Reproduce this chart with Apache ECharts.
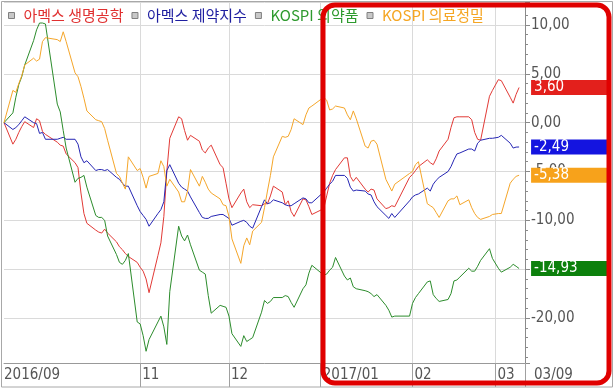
<!DOCTYPE html>
<html><head><meta charset="utf-8">
<script src="https://cdn.jsdelivr.net/npm/echarts@6/dist/echarts.min.js"></script>
<style>html,body{margin:0;padding:0;background:#fff}#c{width:615px;height:391px}</style>
</head><body><div id="c"></div>
<script>
// ---- data ----
const seriesNames = ['아멕스 생명공학', '아멕스 제약지수', 'KOSPI 의약품', 'KOSPI 의료정밀'];
const lineColors = ['#e23a36', '#2626b4', '#2c8c2c', '#f5a62a'];
const tagColors = ['#e3201c', '#1414e0', '#0c800c', '#f7a21b'];
const legendTextColors = ['#e03030', '#1e1ea0', '#2e9a2e', '#f5a623'];

const tradeDays = {
  '2016-09': [16,19,20,21,22,23,26,27,28,29,30],
  '2016-10': [4,5,6,7,10,11,12,13,14,17,18,19,20,21,24,25,26,27,28,31],
  '2016-11': [1,2,3,4,7,8,9,10,11,14,15,16,17,18,21,22,23,24,25,28,29,30],
  '2016-12': [1,2,5,6,7,8,9,12,13,14,15,16,19,20,21,22,23,26,27,28,29],
  '2017-01': [2,3,4,5,6,9,10,11,12,13,16,17,18,19,20,23,24,25,26,31],
  '2017-02': [1,2,3,6,7,8,9,10,13,14,15,16,17,20,21,22,23,24,27,28],
  '2017-03': [2,3,6,7,8,9]
};

const redValues = [
  0,-2.2,-1.7,-1.0,-0.4,0.1,-0.5,0.4,0.2,-0.9,-1.2,
  -2.0,-2.3,-2.4,-3.2,-4.1,-4.6,-7.2,-9.3,-10.3,-11.0,-11.2,-11.3,-10.9,-11.3,-12.2,-12.7,-13.0,-13.4,-13.7,-14.3,
  -14.8,-15.2,-16.0,-17.4,-13.6,-12.3,-9.6,-5.0,-1.6,0.6,0.4,-0.8,-1.8,-1.3,-1.9,-2.8,-3.1,-2.6,-2.3,-4.3,-4.6,-6.2,
  -7.8,-8.7,-7.2,-6.8,-8.1,-8.7,-8.4,-8.5,-8.3,-8.3,-7.5,-6.5,-7.1,-8.4,-8.0,-9.1,-9.6,-7.8,-7.9,-8.6,-9.4,
  -8.8,-7.5,-6.2,-5.4,-4.8,-3.6,-3.6,-5.5,-6.0,-5.6,-6.8,-7.1,-6.8,-6.9,-7.8,-8.8,-8.7,-8.5,-8.6,-5.6,
  -5.3,-4.9,-4.5,-3.8,-4.1,-4.3,-3.7,-2.9,-1.7,-0.5,0.5,0.6,0.6,0.6,0.3,-1.0,-1.7,-1.8,2.7,3.3,
  4.4,4.3,2.6,2.0,2.9,3.6
];
const blueValues = [
  0,-0.7,-0.5,-0.2,0.2,0.6,0.0,-0.1,-1.1,-1.0,-1.7,
  -1.7,-1.6,-1.5,-1.7,-1.7,-2.2,-3.5,-4.1,-3.9,-4.9,-4.8,-4.8,-4.9,-4.8,-5.6,-5.8,-6.2,-6.5,-6.5,-8.5,
  -9.1,-9.5,-9.9,-10.6,-9.3,-8.9,-8.1,-4.9,-4.3,-6.2,-6.6,-6.8,-7.0,-7.6,-9.2,-9.7,-9.8,-9.8,-9.6,-9.4,-9.4,-9.6,
  -9.8,-10.5,-10.1,-10.0,-10.2,-10.6,-10.8,-8.6,-7.9,-8.3,-8.2,-7.9,-8.2,-8.4,-8.5,-8.5,-8.3,-7.7,-7.8,-8.2,-8.2,
  -7.1,-6.7,-6.3,-6.0,-5.4,-5.4,-5.7,-6.6,-7.0,-6.9,-7.0,-7.3,-7.4,-8.1,-8.6,-9.5,-9.8,-9.3,-9.7,-8.0,
  -7.6,-7.4,-7.3,-6.7,-7.0,-6.3,-5.9,-5.6,-5.0,-4.5,-3.8,-3.2,-3.1,-2.7,-2.7,-2.9,-2.1,-1.8,-1.6,-1.6,
  -1.5,-1.3,-2.1,-2.6,-2.5,-2.49
];
const greenValues = [
  0,1.0,2.6,3.9,4.7,5.9,8.4,9.5,10.2,10.2,10.1,
  1.9,1.1,-0.8,-2.6,-6.1,-5.7,-5.6,-5.4,-6.6,-9.5,-9.7,-9.7,-10.0,-11.6,-13.5,-14.3,-14.5,-14.1,-13.4,-20.4,
  -20.6,-21.8,-23.4,-22.2,-20.4,-19.8,-20.9,-22.7,-17.3,-10.6,-11.6,-12.1,-11.5,-12.5,-15.1,-15.3,-15.5,-17.7,-19.5,-18.7,-18.8,-18.9,
  -19.8,-21.6,-22.9,-21.8,-22.4,-22.2,-22.0,-19.4,-18.2,-18.5,-18.3,-17.9,-17.9,-17.7,-17.8,-18.4,-18.9,-17.0,-16.6,-15.4,-14.6,
  -15.6,-15.5,-15.1,-14.8,-13.8,-15.7,-16.1,-15.9,-16.8,-17.0,-17.2,-17.3,-17.5,-17.8,-17.6,-18.7,-19.2,-19.9,-19.8,-19.8,
  -18.5,-17.9,-17.5,-16.3,-16.2,-17.6,-18.0,-18.3,-18.1,-17.5,-16.2,-16.1,-15.8,-14.9,-15.2,-15.2,-14.7,-14.1,-12.9,-13.9,
  -14.9,-15.3,-14.8,-14.5,-14.7,-14.93
];
const orangeValues = [
  0,3.3,3.1,4.0,4.8,5.9,6.6,6.3,6.5,8.3,8.7,
  8.5,8.3,9.3,8.3,5.1,4.7,3.7,2.5,1.2,0.3,0.2,0.1,-0.6,-1.8,-5.2,-5.5,-6.2,-6.8,-3.5,-4.9,
  -4.7,-5.6,-6.7,-5.5,-5.2,-3.9,-4.5,-6.5,-5.8,-7.1,-8.1,-8.1,-7.0,-4.8,-6.5,-5.5,-6.1,-6.8,-7.2,-7.8,-8.4,-8.5,
  -9.6,-11.9,-14.4,-12.6,-11.8,-12.5,-11.1,-10.2,-8.7,-7.0,-5.4,-3.5,-1.4,-1.5,-1.4,-0.7,0.4,-0.2,0.8,1.5,1.7,
  2.6,2.3,1.3,1.4,1.7,1.5,0.8,0.3,1.2,0.4,-2.4,-2.6,-1.9,-1.8,-2.2,-5.8,-6.4,-7.0,-6.3,-5.2,
  -5.0,-4.3,-4.0,-8.3,-8.5,-8.7,-9.2,-9.7,-8.0,-7.8,-7.8,-7.5,-8.4,-7.9,-8.7,-9.3,-9.7,-9.9,-9.6,-9.4,
  -9.3,-9.3,-6.2,-5.8,-5.5,-5.38
];

const xTickLabels = {
  '2016-09-16': '2016/09', '2016-11-01': '11', '2016-12-01': '12',
  '2017-01-01': '2017/01', '2017-02-01': '02', '2017-03-01': '03', '2017-03-11': '03/09'
};
const monthLines = ['2016-11-01','2016-12-01','2017-01-01','2017-02-01','2017-03-01'];

// ---- build ----
const calendar = [];
for (let d = new Date(Date.UTC(2016, 8, 16)); d <= new Date(Date.UTC(2017, 2, 11)); d.setUTCDate(d.getUTCDate() + 1)) {
  calendar.push(d.toISOString().slice(0, 10));
}
const tradeDates = [];
Object.keys(tradeDays).forEach(m => tradeDays[m].forEach(d => tradeDates.push(m + '-' + String(d).padStart(2, '0'))));
const idxOf = s => calendar.indexOf(s);
const gridIdx = new Set(monthLines.map(idxOf));
const tickIdx = new Set(monthLines.map(idxOf).concat([calendar.length - 1]));
const labelIdx = new Set(Object.keys(xTickLabels).map(idxOf));

const narrow = "'Liberation Sans Narrow','DejaVu Sans Condensed','Liberation Sans',sans-serif";
const fmt = v => Number(v).toFixed(2).replace('.', ',');
const allValues = [redValues, blueValues, greenValues, orangeValues];

const series = allValues.map((vals, k) => ({
  name: seriesNames[k],
  type: 'line',
  data: vals.map((v, i) => [idxOf(tradeDates[i]), v]),
  symbol: 'none',
  showSymbol: false,
  lineStyle: { width: 1, color: lineColors[k] },
  itemStyle: { color: lineColors[k] },
  emphasis: { disabled: true },
  animation: false,
  z: 3 + k,
  endLabel: {
    show: true,
    formatter: p => fmt(p.value[1]),
    color: '#fff',
    backgroundColor: tagColors[k],
    width: 72,
    padding: [1, 3, 0, 3],
    distance: 12,
    fontSize: 15,
    lineHeight: 14,
    fontFamily: narrow
  }
}));

const chart = echarts.init(document.getElementById('c'), null, { renderer: 'canvas' });
chart.setOption({
  animation: false,
  backgroundColor: '#fff',
  grid: { left: 4, right: 90, top: 2, bottom: 28, containLabel: false },
  legend: {
    left: 3, top: 3, selectedMode: false, icon: 'rect',
    itemWidth: 6, itemHeight: 6, itemGap: 8,
    textStyle: { fontSize: 15, fontFamily: "'Noto Sans CJK KR',sans-serif", padding: [0, 0, 0, 4] },
    data: seriesNames.map((n, k) => ({
      name: n,
      itemStyle: { color: '#c8c8c8', borderColor: '#808080', borderWidth: 1 },
      textStyle: { color: legendTextColors[k] }
    }))
  },
  xAxis: {
    type: 'category', data: calendar, boundaryGap: false,
    axisLine: { show: true, onZero: false, lineStyle: { color: '#999' } },
    axisTick: { show: true, length: 24, interval: i => tickIdx.has(i), lineStyle: { color: '#a0a0a0' } },
    splitLine: { show: true, interval: i => gridIdx.has(i), lineStyle: { color: '#dadada' } },
    axisLabel: {
      interval: i => labelIdx.has(i),
      align: 'left', margin: 5,
      formatter: v => v === '2017-03-11' ? '{e|' + xTickLabels[v] + '}' : (v === '2016-09-16' ? '{f|' + xTickLabels[v] + '}' : '{n|' + xTickLabels[v] + '}'),
      rich: {
        n: { padding: [0, 0, 0, 2], fontSize: 15, fontFamily: narrow, color: '#555' },
        f: { padding: [0, 0, 0, 0], fontSize: 15, fontFamily: narrow, color: '#555' },
        e: { padding: [0, 0, 0, 9], fontSize: 15, fontFamily: narrow, color: '#555' }
      }
    }
  },
  yAxis: {
    type: 'value', position: 'right', min: -24.6, max: 12.35, splitNumber: 7,
    axisLine: { show: true, lineStyle: { color: '#8a8a8a' } },
    axisTick: { show: true, length: 5, lineStyle: { color: '#8a8a8a' } },
    minorTick: { show: true, splitNumber: 5, length: 3, lineStyle: { color: '#8a8a8a' } },
    splitLine: { show: true, lineStyle: { color: '#dadada' } },
    axisLabel: {
      margin: 6, color: '#555', fontSize: 15, fontFamily: narrow,
      showMinLabel: false, showMaxLabel: false,
      formatter: v => fmt(v)
    }
  },
  series: series,
  graphic: [
    { type: 'rect', silent: true, z: 50, shape: { x: 1.5, y: 1.5, width: 611, height: 385.5 },
      style: { fill: 'transparent', stroke: '#a8a8a8', lineWidth: 1 } },
    { type: 'rect', silent: true, z: 100, shape: { x: 323, y: 5, width: 286, height: 378, r: 12 },
      style: { fill: 'transparent', stroke: '#e00000', lineWidth: 5 } }
  ]
});
</script>
</body></html>
